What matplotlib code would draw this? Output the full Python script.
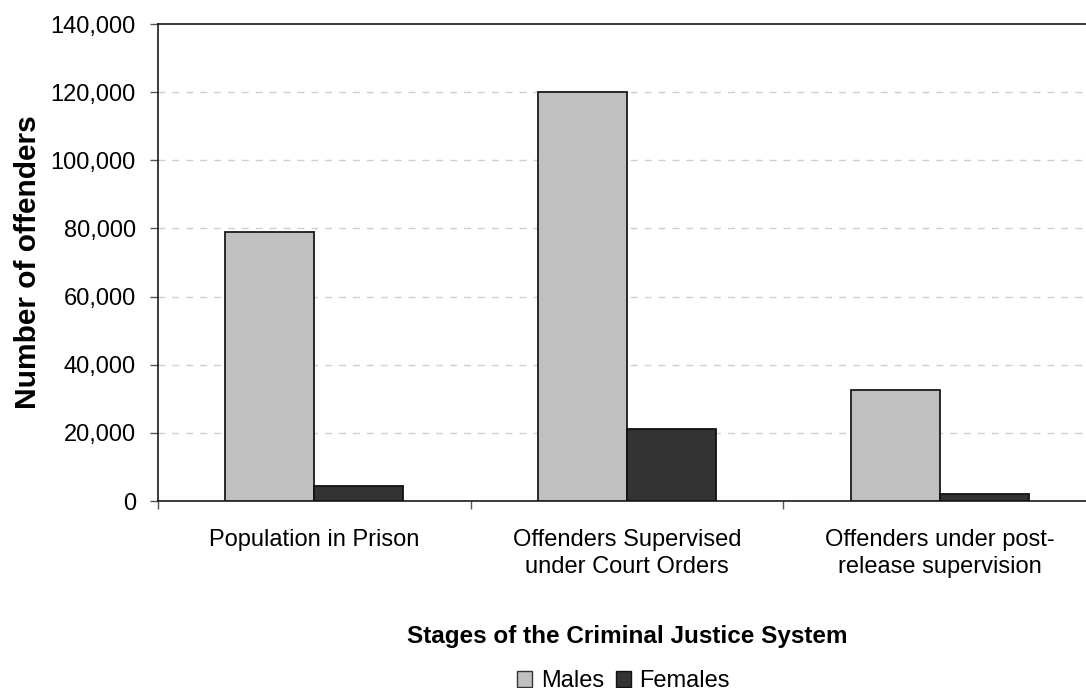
import matplotlib
matplotlib.use("Agg")
import matplotlib.pyplot as plt
import matplotlib.ticker as mticker
from matplotlib.patches import Patch
import numpy as np

plt.rcParams['font.family'] = ['Liberation Sans', 'DejaVu Sans']

# Data
stages = ["Population in Prison",
          "Offenders Supervised\nunder Court Orders",
          "Offenders under post-\nrelease supervision"]
males = [79000, 120000, 32700]
females = [4500, 21200, 2100]

male_color = '#c0c0c0'
female_color = '#333333'

fig = plt.figure(figsize=(10.86, 6.88), dpi=100)
ax = fig.add_axes([158/1086, 187/688, 938/1086, 477/688])

x = np.arange(len(stages))
w = 0.285
ax.bar(x - w/2, males, w, color=male_color, edgecolor='#1a1a1a', linewidth=1.3, zorder=3)
ax.bar(x + w/2, females, w, color=female_color, edgecolor='#111111', linewidth=1.3, zorder=3)

ax.set_xlim(-0.5, 2.5)
ax.set_ylim(0, 140000)
ax.set_yticks(np.arange(0, 140001, 20000))
ax.yaxis.set_major_formatter(mticker.FuncFormatter(lambda v, p: f"{int(v):,}"))
ax.tick_params(axis='y', labelsize=17, length=6, width=1, direction='out', pad=10, color='#555555')

# category boundaries as major ticks, labels on minor ticks
ax.set_xticks([-0.5, 0.5, 1.5, 2.5])
ax.set_xticklabels([])
ax.set_xticks(x, minor=True)
ax.set_xticklabels(stages, minor=True, fontsize=17, linespacing=1.32)
ax.tick_params(axis='x', which='major', length=6, width=1, color='#555555')
ax.tick_params(axis='x', which='minor', length=0, pad=20)

for v in range(20000, 140000, 20000):
    ax.axhline(v, color='#cfcfcf', linestyle=(0, (5, 5)), linewidth=1, zorder=1)

for s in ['left', 'bottom', 'top']:
    ax.spines[s].set_color('#1a1a1a')
    ax.spines[s].set_linewidth(1.2)
ax.spines['right'].set_visible(False)

ax.set_ylabel("Number of offenders", fontsize=21.5, fontweight='bold', labelpad=6)
ax.set_xlabel("Stages of the Criminal Justice System", fontsize=17.5, fontweight='bold', labelpad=34)

handles = [Patch(facecolor=male_color, edgecolor='#333333'),
           Patch(facecolor=female_color, edgecolor='#111111')]
fig.legend(handles, ["Males", "Females"], loc='center', bbox_to_anchor=(0.574, 0.01),
           ncol=2, frameon=False, fontsize=17, handlelength=0.65, handleheight=0.65,
           handletextpad=0.35, columnspacing=0.5)

fig.savefig("out.png", dpi=100)
